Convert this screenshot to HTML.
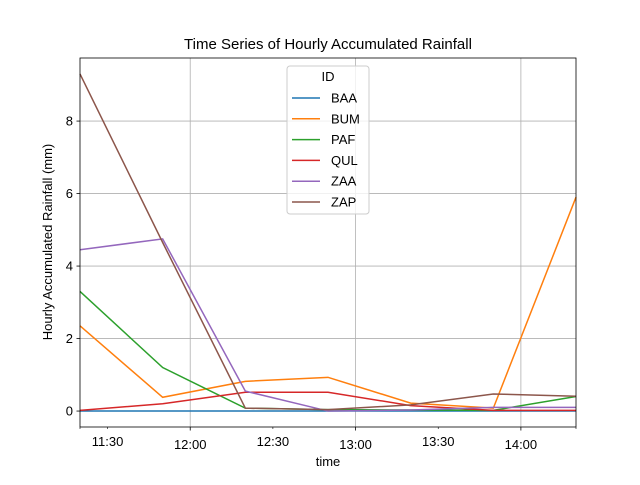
<!DOCTYPE html>
<html><head><meta charset="utf-8"><style>
body{margin:0;background:#fff;font-family:"Liberation Sans",sans-serif}
svg text{font-family:"Liberation Sans",sans-serif}
</style></head><body>
<svg id="chart" width="640" height="480" xmlns="http://www.w3.org/2000/svg"></svg>
<script>
const times=["11:20","11:50","12:20","12:50","13:20","13:50","14:20"];
const seriesNames=["BAA","BUM","PAF","QUL","ZAA","ZAP"];
const BAA=[0,0,0,0,0,0,0];
const BUM=[2.35,0.38,0.82,0.93,0.22,0.08,5.9];
const PAF=[3.3,1.2,0.08,0.04,0.03,0.02,0.4];
const QUL=[0.02,0.2,0.52,0.52,0.15,0.02,0.02];
const ZAA=[4.45,4.75,0.55,0.0,0.03,0.1,0.1];
const ZAP=[9.3,4.65,0.08,0.04,0.17,0.47,0.41];
const majorTicks=["12:00","13:00","14:00"];
const minorTicks=["11:30","12:30","13:30"];
const yTicks=[0,2,4,6,8];
const colors=["#1f77b4","#ff7f0e","#2ca02c","#d62728","#9467bd","#8c564b"];
const allSeries=[BAA,BUM,PAF,QUL,ZAA,ZAP];
const L=80,R=576,T=58,B=427;
function toMin(s){const p=s.split(":");return +p[0]*60+ +p[1];}
const tmin=toMin(times[0]), tmax=toMin(times[times.length-1]);
const ymin=-0.44, ymax=9.74;
function xs(m){return L+(m-tmin)/(tmax-tmin)*(R-L);}
function ys(v){return B-(v-ymin)/(ymax-ymin)*(B-T);}
const svg=document.getElementById('chart');
const NS="http://www.w3.org/2000/svg";
function mk(tag,attrs,parent){const e=document.createElementNS(NS,tag);for(const k in attrs)e.setAttribute(k,attrs[k]);(parent||svg).appendChild(e);return e;}
majorTicks.forEach(t=>{const x=xs(toMin(t));
const g=mk('line',{x1:x,x2:x,y1:T,y2:B,stroke:'#b0b0b0','stroke-width':0.8});


const tk=mk('line',{x1:x,x2:x,y1:B,y2:B+3.5,stroke:'#000','stroke-width':0.8});


const tx=mk('text',{x:x,y:B+22,'font-size':13,'text-anchor':'middle'});tx.textContent=t;


});
minorTicks.forEach(t=>{const x=xs(toMin(t));
const tk=mk('line',{x1:x,x2:x,y1:B,y2:B+2,stroke:'#000','stroke-width':0.6});


const tx=mk('text',{x:x,y:B+19,'font-size':13,'text-anchor':'middle'});tx.textContent=t;


});
[L,R].forEach(x=>{const e=mk('line',{x1:x,x2:x,y1:B,y2:B+2,stroke:'#000','stroke-width':0.6});

});
yTicks.forEach(v=>{const y=ys(v);
const g=mk('line',{x1:L,x2:R,y1:y,y2:y,stroke:'#b0b0b0','stroke-width':0.8});


const tk=mk('line',{x1:L-3.5,x2:L,y1:y,y2:y,stroke:'#000','stroke-width':0.8});


const tx=mk('text',{x:L-7,y:y+4.5,'font-size':13,'text-anchor':'end'});tx.textContent=v;


});
allSeries.forEach((s,i)=>{
const pts=s.map((v,j)=>xs(toMin(times[j]))+','+ys(v)).join(' ');
const p=mk('polyline',{points:pts,fill:'none',stroke:colors[i],'stroke-width':1.5});


});
const fr=mk('rect',{x:L,y:T,width:R-L,height:B-T,fill:'none',stroke:'#000','stroke-width':0.8});


const ti=mk('text',{x:328,y:49,'font-size':15,'text-anchor':'middle'});ti.textContent='Time Series of Hourly Accumulated Rainfall';


const xt=mk('text',{x:328,y:466,'font-size':13,'text-anchor':'middle'});xt.textContent='time';


const yt=mk('text',{x:52,y:242,'font-size':13,'text-anchor':'middle',transform:'rotate(-90 52 242)'});yt.textContent='Hourly Accumulated Rainfall (mm)';


const lg=mk('g',{});


mk('rect',{x:287,y:66,width:82,height:148,rx:3,fill:'#fff','fill-opacity':0.8,stroke:'#ccc','stroke-width':1},lg);
const lt=mk('text',{x:328,y:81,'font-size':13,'text-anchor':'middle'},lg);lt.textContent='ID';
seriesNames.forEach((n,i)=>{const y=98+i*20.8;
const e=mk('g',{},lg);


mk('line',{x1:292,x2:320,y1:y,y2:y,stroke:colors[i],'stroke-width':1.5},e);
const t=mk('text',{x:331,y:y+4.5,'font-size':13},e);t.textContent=n;});
</script>
</body></html>
